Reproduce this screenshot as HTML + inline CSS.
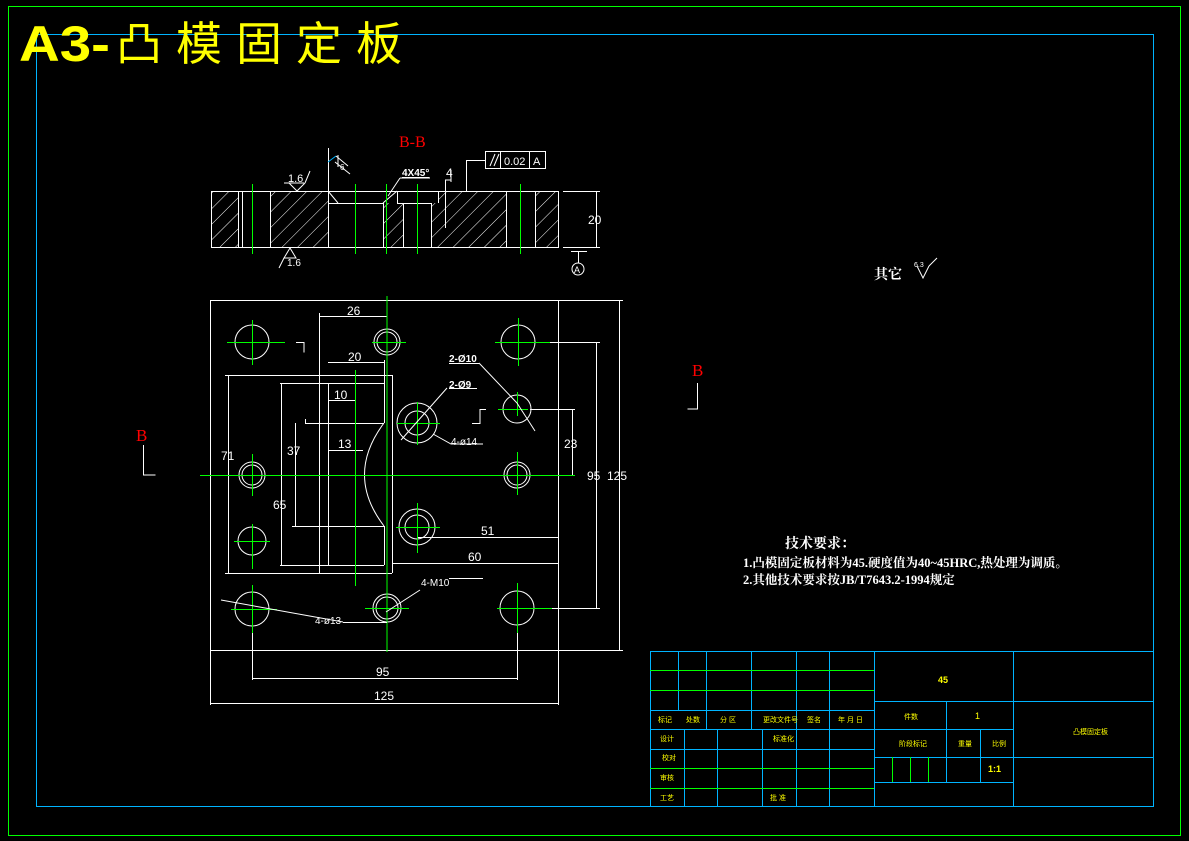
<!DOCTYPE html>
<html><head><meta charset="utf-8"><style>
html,body{margin:0;padding:0;background:#000;}
svg{display:block;}
text{font-family:"Liberation Sans","Noto Sans CJK SC",sans-serif;}
.w{stroke:#fff;stroke-width:1;fill:none;}
.g{stroke:#00ff00;stroke-width:1;fill:none;}
.c{stroke:#00b4ff;stroke-width:1;fill:none;}
.t{fill:#fff;font-size:12px;}
.y{fill:#ffff00;font-size:7px;font-family:"Liberation Sans","Noto Sans CJK SC",sans-serif;}
</style></head><body>
<svg width="1189" height="841" viewBox="0 0 1189 841" xmlns="http://www.w3.org/2000/svg">
<defs>
<pattern id="h" patternUnits="userSpaceOnUse" width="11" height="11" patternTransform="rotate(45)">
<line x1="0" y1="0" x2="0" y2="11" stroke="#fff" stroke-width="1"/>
</pattern>
</defs>
<rect width="1189" height="841" fill="#000"/>
<rect x="8.5" y="6.5" width="1172" height="829" class="g"/>
<rect x="36.5" y="34.5" width="1117" height="772" class="c"/>
<text x="19" y="61" fill="#ffff00" textLength="91" lengthAdjust="spacingAndGlyphs" style="font-size:50px;font-weight:bold;">A3-</text>
<text x="116" y="60" fill="#ffff00" style="font-size:46px;letter-spacing:14px;font-family:'Noto Sans CJK SC',sans-serif;">凸模固定板</text>

<!-- Section B-B -->
<text x="399" y="147" fill="#ff0000" style="font-size:16px;font-family:'Liberation Serif',serif;">B-B</text>
<g>
<rect x="211" y="191" width="27" height="56" fill="url(#h)"/>
<rect x="270" y="191" width="58" height="56" fill="url(#h)"/>
<rect x="383" y="203" width="20" height="44" fill="url(#h)"/>
<rect x="431" y="203" width="75" height="44" fill="url(#h)"/>
<rect x="438" y="191" width="68" height="12" fill="url(#h)"/>
<rect x="535" y="191" width="24" height="56" fill="url(#h)"/>
<rect x="211.5" y="191.5" width="347" height="56" class="w"/>
<path class="w" d="M238.5 191v56 M242.5 191v56 M270.5 191v56 M328.5 191v56 M383.5 203v44 M403.5 203v44 M431.5 203v44 M506.5 191v56 M535.5 191v56 M328 203.5h55 M383 203l14-12 M397.5 191v12 M397 203.5h34 M438.5 191v12 M328 191l10 12 M328.5 148v43"/>
<path class="g" d="M252.5 184v70 M355.5 184v70 M386.5 184v70 M417.5 184v70 M520.5 184v70"/>
<path class="w" d="M563 191.5h37 M563 247.5h37 M596.5 191v56"/>
<text x="588" y="224" class="t">20</text>
<path class="w" d="M571 251.5h16 M578.5 251v12"/>
<circle cx="578" cy="269" r="6" class="w"/>
<text x="574" y="273" style="font-size:9px" fill="#fff">A</text>
<text x="288" y="182" class="t" style="font-size:11px">1.6</text>
<path class="w" d="M284 183h20 M289 183l8 8 8-8 M305 183l5-12"/>
<path class="w" d="M290 248l6 10h-12z M284 258l-5 10"/>
<text x="287" y="266" class="t" style="font-size:10px">1.6</text>
<path stroke="#00b4ff" fill="none" d="M328 162l8-6"/>
<path class="w" d="M336 156l12 10 M335 162l15 12 M338 155v12"/>
<text x="340" y="170" class="t" style="font-size:8px">6</text>
<text x="402" y="176" class="t" style="font-size:10px;font-weight:bold;text-decoration:underline;">4X45°</text>
<path class="w" d="M400 178h30 M400 178l-12 18"/>
<text x="446" y="177" class="t">4</text>
<path class="w" d="M451 170v12 M445.5 180v48 M445 180h6"/>
<rect x="485.5" y="151.5" width="60" height="17" class="w"/>
<path class="w" d="M500.5 151v17 M529.5 151v17 M466 160.5h19 M466.5 160v31 M490 166l5-12 M494 166l5-12"/>
<text x="504" y="165" class="t" style="font-size:11px">0.02</text>
<text x="533" y="165" class="t" style="font-size:11px">A</text>
</g>

<!-- Plan view -->
<g>
<rect x="210.5" y="300.5" width="348" height="350" class="w"/>
<path class="w" d="M558 300.5h65 M558 650.5h65 M619.5 300v350 M210.5 650v55 M558.5 650v55 M210 703.5h348 M252.5 608v72 M517.5 608v72 M252 678.5h265 M535 342.5h65 M535 608.5h65 M596.5 342v266"/>
<text x="607" y="480" class="t">125</text>
<text x="587" y="480" class="t">95</text>
<text x="374" y="700" class="t">125</text>
<text x="376" y="676" class="t">95</text>
<path class="w" d="M319.5 313v260 M319 375.5h73 M392.5 375v198 M225 573.5h167 M225 375.5h94 M328.5 383v182 M328 565.5h56 M384.5 383v40 M384.5 526v39 M280 383.5h104 M280 565.5h48 M305 423.5h79 M292 526.5h92 M384 423 Q345 475 384 526 M305.5 419v4"/>
<path class="w" d="M228.5 375v198 M281.5 383v182 M295.5 423v103 M319 316.5h68 M328 362.5h56 M384.5 360v23 M328 400.5h27 M328 450.5h35"/>
<text x="221" y="460" class="t">71</text>
<text x="273" y="509" class="t">65</text>
<text x="287" y="455" class="t">37</text>
<text x="347" y="315" class="t">26</text>
<text x="348" y="361" class="t">20</text>
<text x="334" y="399" class="t">10</text>
<text x="338" y="448" class="t">13</text>
<path class="w" d="M530 409.5h45 M572.5 409v66 M417 537.5h141 M392 563.5h166 M558.5 300v350"/>
<text x="564" y="448" class="t">23</text>
<text x="481" y="535" class="t">51</text>
<text x="468" y="561" class="t">60</text>
<path class="w" d="M296 342.5h8v10 M472 423.5h8v-14h6"/>
<g class="w">
<circle cx="252" cy="342" r="17"/><circle cx="518" cy="342" r="17"/>
<circle cx="252" cy="609" r="17"/><circle cx="517" cy="608" r="17"/>
<circle cx="387" cy="342" r="13"/><circle cx="387" cy="342" r="10"/>
<circle cx="252" cy="475" r="13"/><circle cx="252" cy="475" r="10"/>
<circle cx="517" cy="475" r="13"/><circle cx="517" cy="475" r="10"/>
<circle cx="252" cy="541" r="14"/>
<circle cx="387" cy="608" r="14"/><circle cx="387" cy="608" r="11"/>
<circle cx="517" cy="409" r="14"/>
<circle cx="417" cy="423" r="20"/><circle cx="417" cy="423" r="12"/>
<circle cx="417" cy="527" r="18"/><circle cx="417" cy="527" r="12"/>
</g>
<g class="g">
<path d="M387 296v356 M200 475.5h375 M355.5 370v216"/>
<path d="M227 342.5h58 M252.5 320v45 M495 342.5h55 M518.5 318v48 M231 609.5h46 M252.5 585v48 M497 608.5h55 M517.5 583v50 M372 342.5h34 M233 475.5h40 M252.5 454v42 M495 475.5h40 M517.5 452v43 M234 541.5h36 M252.5 524v45 M365 608.5h44 M498 409.5h30 M517.5 392v24 M397 423.5h43 M417.5 402v43 M396 527.5h44 M417.5 503v50"/>
</g>
<path class="w" d="M449 363.5h30 M479 363l38 40 M517 403l18 28 M449 388.5h28 M447 388l-46 52 M433 434l18 10h32 M449 578.5h34 M420 590l-34 22 M343 622.5h44 M343 622l-122-22"/>
<text x="449" y="362" class="t" style="font-size:10px;font-weight:bold">2-Ø10</text>
<text x="449" y="388" class="t" style="font-size:10px;font-weight:bold">2-Ø9</text>
<text x="451" y="445" class="t" style="font-size:10px">4-ø14</text>
<text x="421" y="586" class="t" style="font-size:10px">4-M10</text>
<text x="315" y="624" class="t" style="font-size:10px">4-ø13</text>
</g>

<text x="136" y="441" fill="#ff0000" style="font-size:17px;font-family:'Liberation Serif',serif;">B</text>
<path class="w" d="M143.5 445v30h12"/>
<text x="692" y="376" fill="#ff0000" style="font-size:17px;font-family:'Liberation Serif',serif;">B</text>
<path class="w" d="M697.5 383v26h-10"/>

<text x="874" y="279" fill="#fff" style="font-size:14px;font-weight:bold;font-family:'Noto Serif CJK SC',serif;">其它</text>
<path class="w" d="M917 266l6 12 6-12 M929 266l8-8"/>
<text x="914" y="267" fill="#fff" style="font-size:7px">6.3</text>
<text x="785" y="548" fill="#fff" style="font-size:14px;font-weight:bold;font-family:'Noto Serif CJK SC',serif;">技术要求：</text>
<text x="743" y="567" fill="#fff" style="font-size:12.5px;font-weight:bold;font-family:'Liberation Serif','Noto Serif CJK SC',serif;">1.凸模固定板材料为45.硬度值为40~45HRC,热处理为调质。</text>
<text x="743" y="584" fill="#fff" style="font-size:12.5px;font-weight:bold;font-family:'Liberation Serif','Noto Serif CJK SC',serif;">2.其他技术要求按JB/T7643.2-1994规定</text>

<g class="c">
<rect x="650.5" y="651.5" width="503" height="155"/>
<path d="M678.5 651v59 M706.5 651v78 M751.5 651v78 M796.5 651v156 M829.5 651v156 M874.5 651v156 M650 710.5h224 M650 729.5h224 M650 749.5h224 M684.5 729v78 M717.5 729v78 M762.5 729v78 M1013.5 651v156 M874 701.5h279 M874 729.5h139 M874 757.5h279 M874 782.5h139 M946.5 701v81 M980.5 729v53"/>
</g>
<path class="g" d="M650 670.5h224 M650 690.5h224 M650 768.5h224 M650 788.5h224 M892.5 757v25 M910.5 757v25 M928.5 757v25"/>
<g class="y">
<text x="938" y="683" style="font-size:9px;font-weight:bold">45</text>
<text x="975" y="719" style="font-size:9px">1</text>
<text x="988" y="772" style="font-size:9px;font-weight:bold">1:1</text>
<text x="904" y="719">件数</text>
<text x="899" y="746">阶段标记</text>
<text x="958" y="746">重量</text>
<text x="992" y="746">比例</text>
<text x="1073" y="734">凸模固定板</text>
<text x="658" y="722">标记</text>
<text x="686" y="722">处数</text>
<text x="720" y="722">分 区</text>
<text x="763" y="722">更改文件号</text>
<text x="807" y="722">签名</text>
<text x="838" y="722">年 月 日</text>
<text x="660" y="741">设计</text>
<text x="773" y="741">标准化</text>
<text x="662" y="760">校对</text>
<text x="660" y="780">审核</text>
<text x="660" y="800">工艺</text>
<text x="770" y="800">批 准</text>
</g>
</svg>
</body></html>
